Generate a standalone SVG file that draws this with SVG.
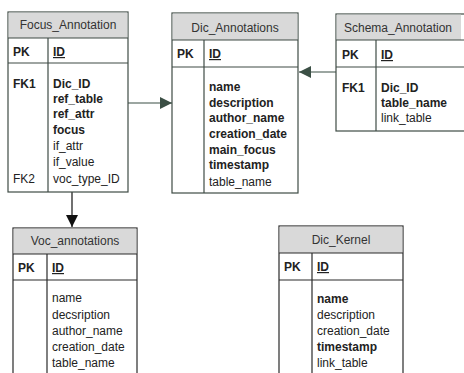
<svg xmlns="http://www.w3.org/2000/svg" width="464" height="373" viewBox="0 0 464 373">
  <defs>
    <style>
      text { font-family: "Liberation Sans", Arial, sans-serif; font-size: 12px; fill: #222; }
      .hdr { fill: #d9d9d9; }
      .box { fill: #fff; }
      .top .box, .top .ln { stroke: #3f4b45; }
      .bot .box, .bot .ln { stroke: #2a2a2a; }
      .box, .ln { stroke-width: 1.2; fill-opacity: 1; }
      .ln { fill: none; }
      .title { text-anchor: middle; fill: #333; }
      .b { font-weight: bold; }
      .pk { font-weight: bold; text-decoration: underline; }
      .conn { stroke-width: 1.2; fill: none; }
    </style>
    <marker id="arrG" viewBox="0 0 12 12" refX="12" refY="6" markerWidth="12" markerHeight="12" markerUnits="userSpaceOnUse" orient="auto">
      <path d="M0,0 L12,6 L0,12 Z" fill="#3b4f45"/>
    </marker>
    <marker id="arrK" viewBox="0 0 12 12" refX="12" refY="6" markerWidth="12" markerHeight="12" markerUnits="userSpaceOnUse" orient="auto">
      <path d="M0,0 L12,6 L0,12 Z" fill="#111"/>
    </marker>
  </defs>

  <!-- relationships -->
  <g id="connectors">
    <line class="conn" x1="128" y1="103" x2="172" y2="103" stroke="#3b4f45" marker-end="url(#arrG)"/>
    <line class="conn" x1="336" y1="72" x2="299" y2="72" stroke="#3b4f45" marker-end="url(#arrG)"/>
    <line class="conn" x1="72" y1="192" x2="72" y2="227" stroke="#111" marker-end="url(#arrK)"/>
  </g>

  <!-- Focus_Annotation table -->
  <g id="focus_annotation" class="top">
    <rect class="box" x="8" y="12" width="120" height="180"/>
    <rect class="hdr" x="8.6" y="12.6" width="118.8" height="25.4"/>
    <line class="ln" x1="8" y1="38" x2="128" y2="38"/>
    <line class="ln" x1="8" y1="63" x2="128" y2="63"/>
    <line class="ln" x1="48" y1="38" x2="48" y2="192"/>
    <text class="title" x="68" y="29">Focus_Annotation</text>
    <text class="b" x="13" y="56">PK</text>
    <text class="pk" x="53" y="56">ID</text>
    <text class="b" x="13" y="88">FK1</text>
    <text x="13" y="183">FK2</text>
    <text class="b" x="53" y="88">Dic_ID</text>
    <text class="b" x="53" y="103">ref_table</text>
    <text class="b" x="53" y="118">ref_attr</text>
    <text class="b" x="53" y="134">focus</text>
    <text x="53" y="150">if_attr</text>
    <text x="53" y="166">if_value</text>
    <text x="53" y="183">voc_type_ID</text>
  </g>

  <!-- Dic_Annotations table -->
  <g id="dic_annotations" class="top">
    <rect class="box" x="172" y="13" width="126" height="180"/>
    <rect class="hdr" x="172.6" y="13.6" width="124.8" height="26.4"/>
    <line class="ln" x1="172" y1="40" x2="298" y2="40"/>
    <line class="ln" x1="172" y1="67" x2="298" y2="67"/>
    <line class="ln" x1="204" y1="40" x2="204" y2="193"/>
    <text class="title" x="235" y="32">Dic_Annotations</text>
    <text class="b" x="177" y="58">PK</text>
    <text class="pk" x="209" y="58">ID</text>
    <text class="b" x="209" y="91">name</text>
    <text class="b" x="209" y="107">description</text>
    <text class="b" x="209" y="122">author_name</text>
    <text class="b" x="209" y="138">creation_date</text>
    <text class="b" x="209" y="154">main_focus</text>
    <text class="b" x="209" y="169">timestamp</text>
    <text x="209" y="186">table_name</text>
  </g>

  <!-- Schema_Annotation table (runs past the right edge) -->
  <g id="schema_annotation" class="top">
    <rect class="box" x="336" y="14" width="140" height="117"/>
    <rect class="hdr" x="336.6" y="14.6" width="124.4" height="25.4"/>
    <line class="ln" x1="336" y1="40" x2="476" y2="40"/>
    <line class="ln" x1="336" y1="67" x2="476" y2="67"/>
    <line class="ln" x1="376" y1="40" x2="376" y2="131"/>
    <text class="title" x="398" y="32">Schema_Annotation</text>
    <text class="b" x="342" y="59">PK</text>
    <text class="pk" x="381" y="59">ID</text>
    <text class="b" x="342" y="92">FK1</text>
    <text class="b" x="381" y="92">Dic_ID</text>
    <text class="b" x="381" y="107">table_name</text>
    <text x="381" y="122">link_table</text>
  </g>

  <!-- Voc_annotations table (runs past the bottom edge) -->
  <g id="voc_annotations" class="bot">
    <rect class="box" x="13" y="228" width="124" height="160"/>
    <rect class="hdr" x="13.6" y="228.6" width="122.8" height="25.4"/>
    <line class="ln" x1="13" y1="254" x2="137" y2="254"/>
    <line class="ln" x1="13" y1="280" x2="137" y2="280"/>
    <line class="ln" x1="47" y1="254" x2="47" y2="388"/>
    <text class="title" x="75" y="245">Voc_annotations</text>
    <text class="b" x="18" y="272">PK</text>
    <text class="pk" x="52" y="272">ID</text>
    <text x="52" y="302">name</text>
    <text x="52" y="319">decsription</text>
    <text x="52" y="335">author_name</text>
    <text x="52" y="351">creation_date</text>
    <text x="52" y="367">table_name</text>
  </g>

  <!-- Dic_Kernel table (runs past the bottom edge) -->
  <g id="dic_kernel" class="bot">
    <rect class="box" x="279" y="226" width="124" height="160"/>
    <rect class="hdr" x="279.6" y="226.6" width="122.8" height="26.4"/>
    <line class="ln" x1="279" y1="253" x2="403" y2="253"/>
    <line class="ln" x1="279" y1="280" x2="403" y2="280"/>
    <line class="ln" x1="312" y1="253" x2="312" y2="386"/>
    <text class="title" x="341" y="244">Dic_Kernel</text>
    <text class="b" x="284" y="271">PK</text>
    <text class="pk" x="317" y="271">ID</text>
    <text class="b" x="317" y="303">name</text>
    <text x="317" y="319">description</text>
    <text x="317" y="335">creation_date</text>
    <text class="b" x="317" y="351">timestamp</text>
    <text x="317" y="367">link_table</text>
  </g>
</svg>
